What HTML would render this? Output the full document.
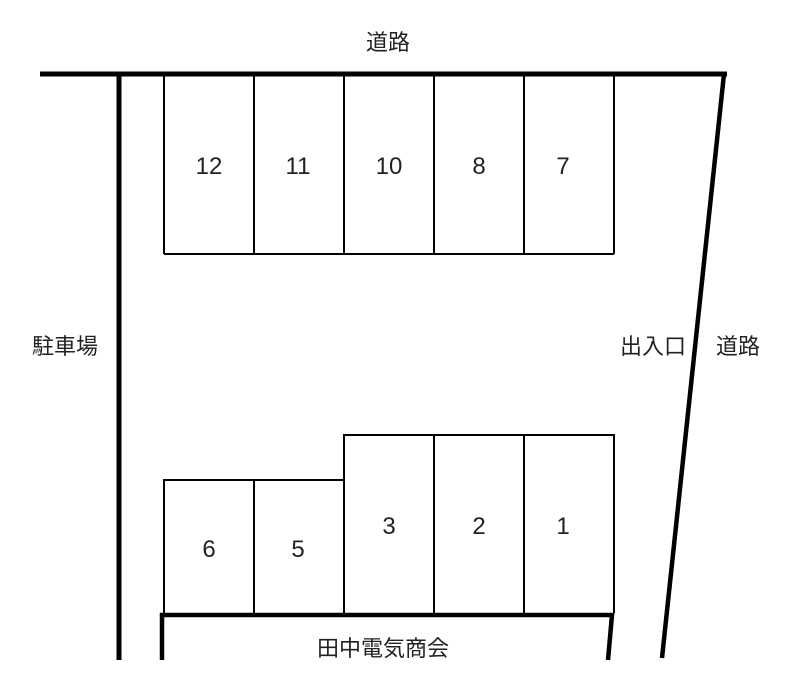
<!DOCTYPE html>
<html><head><meta charset="utf-8"><style>
html,body{margin:0;padding:0;background:#fff;}
svg{display:block;}
text{font-family:"Liberation Sans","Noto Sans CJK JP",sans-serif;fill:#222;}
.n{font-size:24px;}
.j{font-size:22px;}
</style></head><body>
<svg width="800" height="691" viewBox="0 0 800 691" xmlns="http://www.w3.org/2000/svg">
<g stroke="#000" fill="none">
<line x1="40" y1="74" x2="727" y2="74" stroke-width="5"/>
<line x1="119" y1="74" x2="119" y2="660" stroke-width="5"/>
<line x1="724" y1="74" x2="662" y2="658" stroke-width="4.5"/>
<g stroke-width="2">
<line x1="164" y1="76" x2="164" y2="254"/>
<line x1="254" y1="76" x2="254" y2="254"/>
<line x1="344" y1="76" x2="344" y2="254"/>
<line x1="434" y1="76" x2="434" y2="254"/>
<line x1="524" y1="76" x2="524" y2="254"/>
<line x1="614" y1="76" x2="614" y2="254"/>
<line x1="164" y1="254" x2="614" y2="254"/>
<polyline points="164,613 164,480 344,480"/>
<line x1="254" y1="480" x2="254" y2="613"/>
<polyline points="344,613 344,435 614,435 614,613"/>
<line x1="434" y1="435" x2="434" y2="613"/>
<line x1="524" y1="435" x2="524" y2="613"/>
</g>
<polyline points="162,660 162,615 612,615 608,660" stroke-width="4.5"/>
</g>
<g text-anchor="middle">
<text class="n" x="209" y="174">12</text>
<text class="n" x="298" y="174">11</text>
<text class="n" x="389" y="174">10</text>
<text class="n" x="479" y="174">8</text>
<text class="n" x="563" y="174">7</text>
<text class="n" x="209" y="557">6</text>
<text class="n" x="298" y="557">5</text>
<text class="n" x="389" y="534">3</text>
<text class="n" x="479" y="534">2</text>
<text class="n" x="563" y="534">1</text>
</g>
<g text-anchor="middle">
<text class="j" x="388" y="50">道路</text>
<text class="j" x="65" y="354">駐車場</text>
<text class="j" x="653" y="354">出入口</text>
<text class="j" x="738" y="354">道路</text>
<text class="j" x="383" y="656">田中電気商会</text>
</g>
</svg>
</body></html>
